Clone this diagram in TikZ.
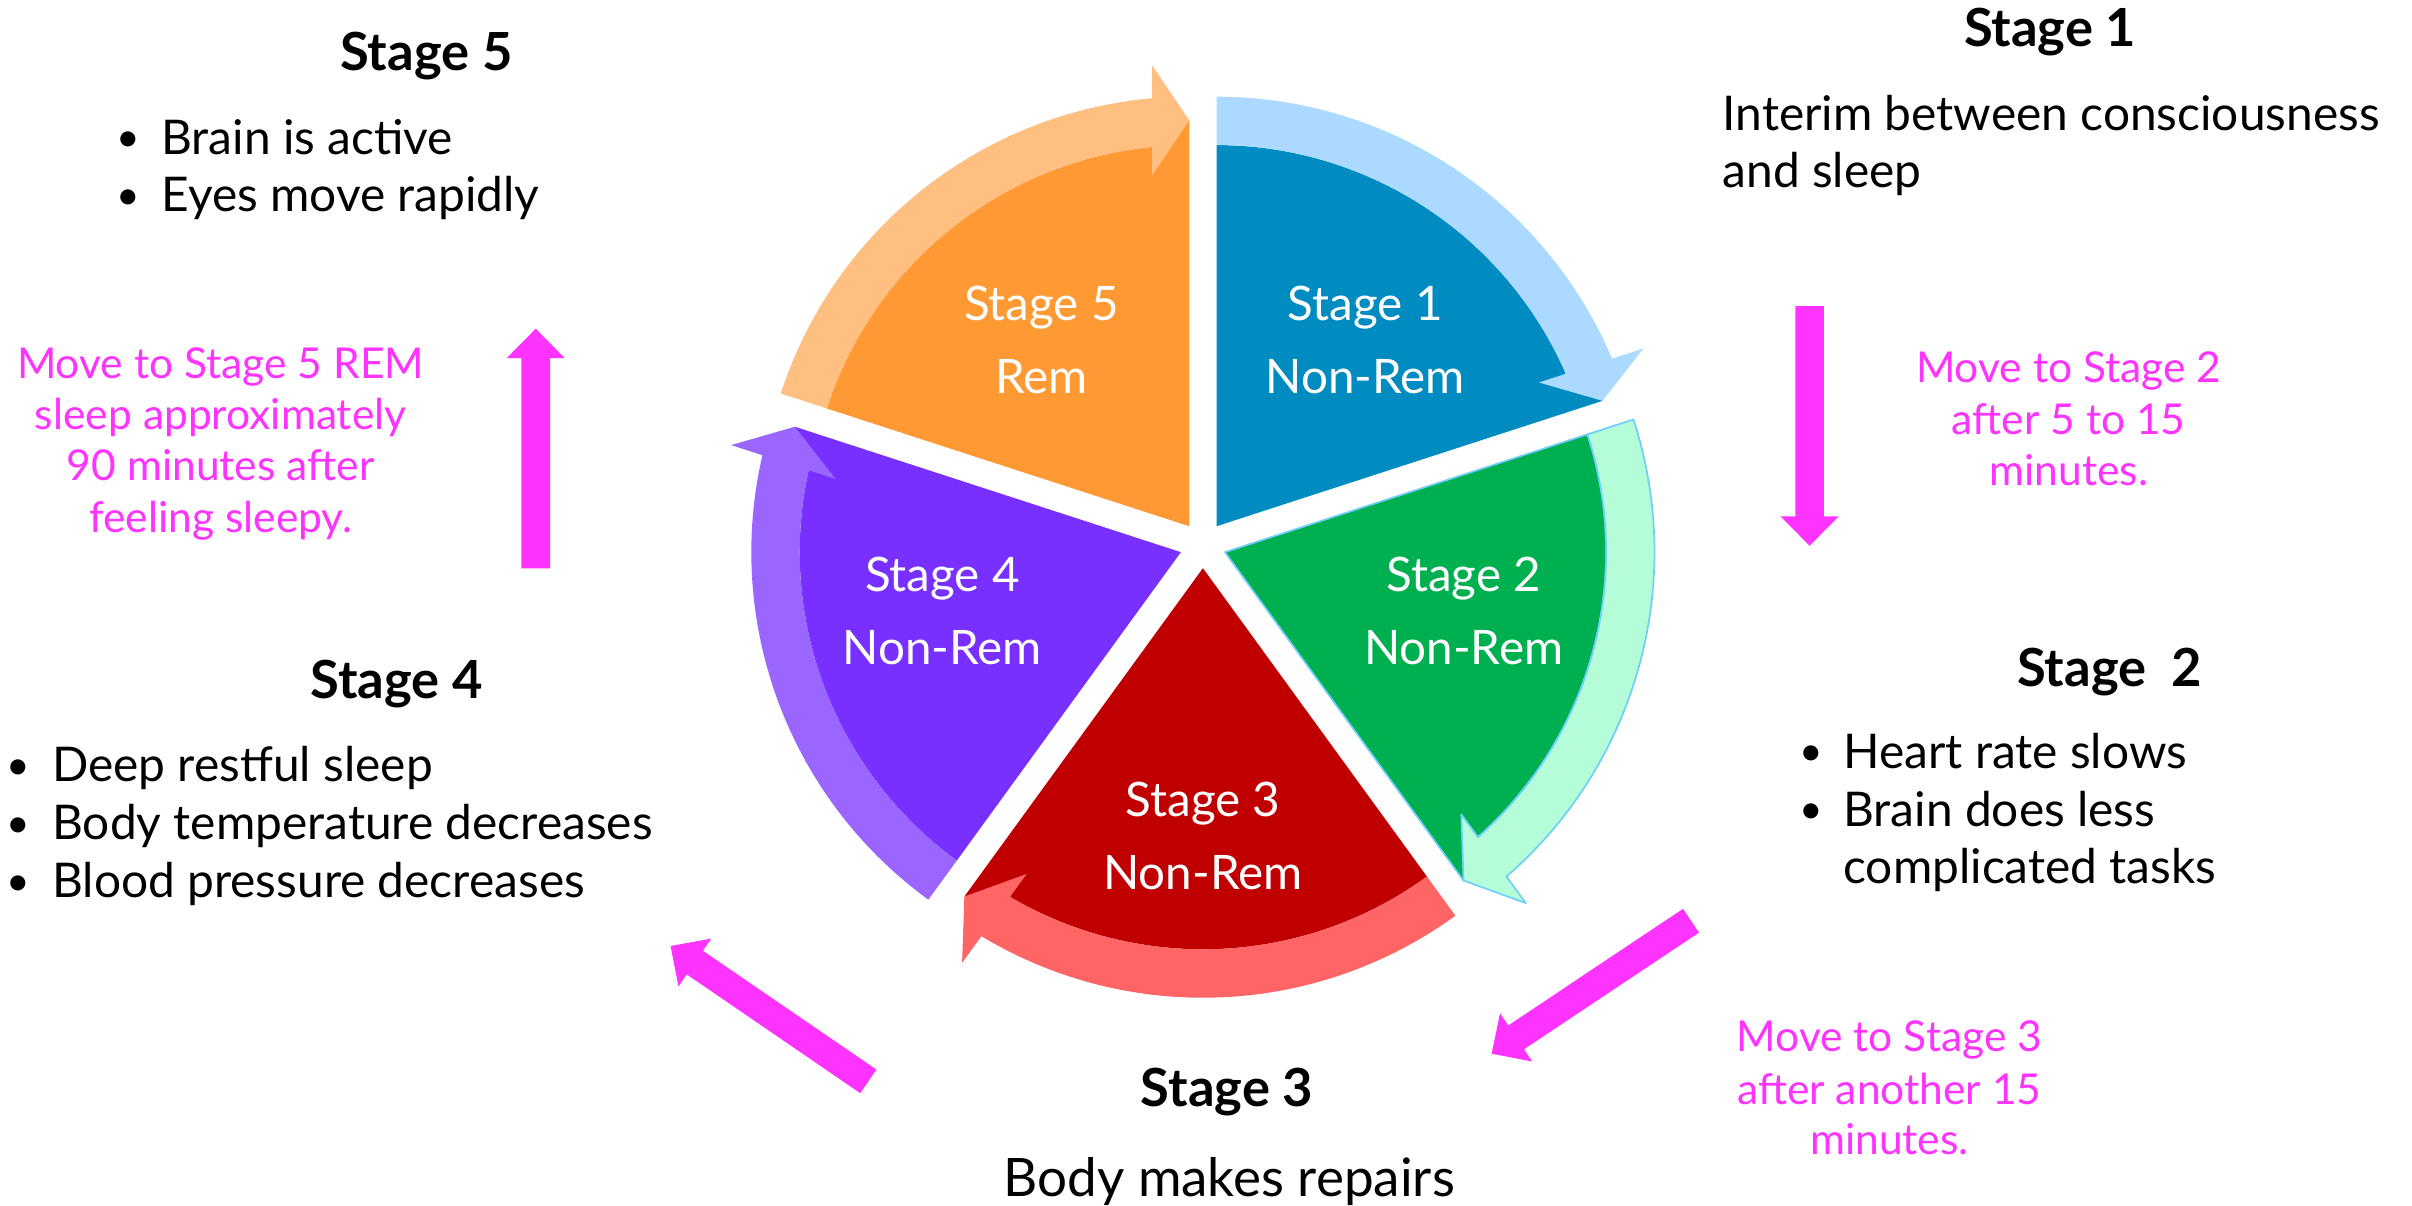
\documentclass[tikz,border=0pt]{standalone}
\usepackage{fontspec}
\setmainfont{Lato}
\definecolor{s1d}{RGB}{0,139,193}
\definecolor{s1l}{RGB}{171,217,255}
\definecolor{s2d}{RGB}{0,176,80}
\definecolor{s2l}{RGB}{181,253,217}
\definecolor{s2o}{RGB}{110,208,250}
\definecolor{s3d}{RGB}{192,0,0}
\definecolor{s3l}{RGB}{255,101,101}
\definecolor{s4d}{RGB}{119,48,255}
\definecolor{s4l}{RGB}{154,102,255}
\definecolor{s5d}{RGB}{255,153,51}
\definecolor{s5l}{RGB}{255,191,128}
\definecolor{mag}{RGB}{255,51,255}
\newbox\fitbx
\newcommand\fitsize[3]{\setbox\fitbx=\hbox{\normalfont\fontsize{10pt}{12pt}\selectfont #3}\pgfmathsetmacro#1{10*#2/\the\wd\fitbx}}
\AtBeginDocument{%
\fitsize\szL{64.4}{Non-Rem}%
\fitsize\szT{55.75}{\bfseries Stage 5}%
\fitsize\szB{212.5}{Interim between consciousness}%
\fitsize\szR{146}{Body makes repairs}%
\fitsize\szM{131.65}{Move to Stage 5 REM}%
\pgfmathsetmacro\szD{0.85*\szB}}
\newcommand\sleepsector[5]{%
\begin{scope}[shift={(778,427.5)},shift={(#1:15)},rotate=#2]
\path[fill=#3,#5] (0,0) -- (72:246.5) arc[start angle=72,end angle=5.59,radius=246.5] -- (262.5,0) -- cycle;
\path[fill=#4,#5] (72:246.5) arc[start angle=72,end angle=5.59,radius=246.5] -- (227,24) -- (262.5,0) -- (298,24) -- (276.76,24) arc[start angle=4.96,end angle=72,radius=277.8] -- cycle;
\end{scope}}
\begin{document}
\begin{tikzpicture}[x=0.5pt,y=0.5pt,
  lbl/.style={font=\fontsize{\szL pt}{\szL pt}\selectfont, text=white, inner sep=0pt, anchor=base},
  ttl/.style={font=\fontsize{\szT pt}{\szT pt}\selectfont\bfseries, inner sep=0pt, anchor=base},
  bodytext/.style={font=\fontsize{\szB pt}{\szB pt}\selectfont, inner sep=0pt, anchor=base west},
  bul/.style={font=\fontsize{\szD pt}{\szD pt}\selectfont, inner sep=0pt, anchor=base, yshift=0.8pt},
  reptext/.style={font=\fontsize{\szR pt}{\szR pt}\selectfont, inner sep=0pt, anchor=base},
  magtext/.style={font=\fontsize{\szM pt}{\szM pt}\selectfont, text=mag, inner sep=0pt, anchor=base},
  fatarrow/.pic={\fill[mag] (0,-9.25) -- (136,-9.25) -- (136,-18.75) -- (155,0) -- (136,18.75) -- (136,9.25) -- (0,9.25) -- cycle;}
]
\useasboundingbox (0,0) rectangle (1560,780);
\fill[white] (0,0) rectangle (1560,780);

% pie sectors with circular arrows
\sleepsector{54}{18}{s1d}{s1l}{}
\sleepsector{-18}{-54}{s2d}{s2l}{draw=s2o,line width=0.55pt,line join=round}
\sleepsector{-90}{-126}{s3d}{s3l}{}
\sleepsector{-162}{162}{s4d}{s4l}{}
\sleepsector{126}{90}{s5d}{s5l}{}

% sector labels
\node[lbl] (l1a) at (883,573) {Stage 1};
\node[lbl] (l1b) at (883,525.5) {Non-Rem};
\node[lbl] (l2a) at (946.6,397.7) {Stage 2};
\node[lbl] (l2b) at (946.6,350.1) {Non-Rem};
\node[lbl] (l3a) at (778,251.7) {Stage 3};
\node[lbl] (l3b) at (778,204.5) {Non-Rem};
\node[lbl] (l4a) at (609.5,397.7) {Stage 4};
\node[lbl] (l4b) at (609.5,350.1) {Non-Rem};
\node[lbl] (l5a) at (673.5,573) {Stage 5};
\node[lbl] (l5b) at (673.5,525.5) {Rem};

% titles
\node[ttl] (t5) at (275.8,734.2) {Stage 5};
\node[ttl] (t1) at (1326,749.8) {Stage 1};
\node[ttl] (t2) at (1364.5,336.2) {Stage\ \ 2};
\node[ttl] (t4) at (256.6,328.2) {Stage 4};
\node[ttl] (t3) at (793.7,64.2) {Stage 3};

% stage 5 text
\node[bul] (b5a) at (82.9,680.2) {•};
\node[bodytext] (s5a) at (104,680.2) {Brain is active};
\node[bul] (b5b) at (82.9,643.1) {•};
\node[bodytext] (s5b) at (104,643.1) {Eyes move rapidly};
% stage 1 text
\node[bodytext] (s1a) at (1113.7,695.8) {Interim between consciousness};
\node[bodytext] (s1b) at (1113.7,658.7) {and sleep};
% stage 2 text
\node[bul] (b2a) at (1171.2,283) {•};
\node[bodytext] (s2a) at (1191.9,283) {Heart rate slows};
\node[bul] (b2b) at (1171.2,245.5) {•};
\node[bodytext] (s2b) at (1191.9,245.5) {Brain does less};
\node[bodytext] (s2c) at (1191.9,208.7) {complicated tasks};
% stage 4 text
\node[bul] (b4a) at (11.9,274.4) {•};
\node[bodytext] (s4a) at (33.4,274.4) {Deep restful sleep};
\node[bul] (b4b) at (11.9,236.9) {•};
\node[bodytext] (s4b) at (33.4,236.9) {Body temperature decreases};
\node[bul] (b4c) at (11.9,199.4) {•};
\node[bodytext] (s4c) at (33.4,199.4) {Blood pressure decreases};
% stage 3 text
\node[reptext] (s3a) at (795,6.4) {Body makes repairs};

% magenta notes
\node[magtext] (m5a) at (142.7,534.9) {Move to Stage 5 REM};
\node[magtext] (m5b) at (142.7,502.2) {sleep approximately};
\node[magtext] (m5c) at (142.7,469.3) {90 minutes after};
\node[magtext] (m5d) at (142.7,435.9) {feeling sleepy.};
\node[magtext] (m2a) at (1338,532.5) {Move to Stage 2};
\node[magtext] (m2b) at (1338,499) {after 5 to 15};
\node[magtext] (m2c) at (1338,466.1) {minutes.};
\node[magtext] (m3a) at (1222,99.8) {Move to Stage 3};
\node[magtext] (m3b) at (1222,65.6) {after another 15};
\node[magtext] (m3c) at (1222,33) {minutes.};

% magenta block arrows
\pic[rotate=90] at (346.5,412.4) {fatarrow};
\pic[rotate=-90] at (1170.4,582) {fatarrow};
\pic[rotate=213.7] at (1093.7,184.5) {fatarrow};
\pic[rotate=145.6] at (561.6,80.6) {fatarrow};
\end{tikzpicture}
\end{document}
